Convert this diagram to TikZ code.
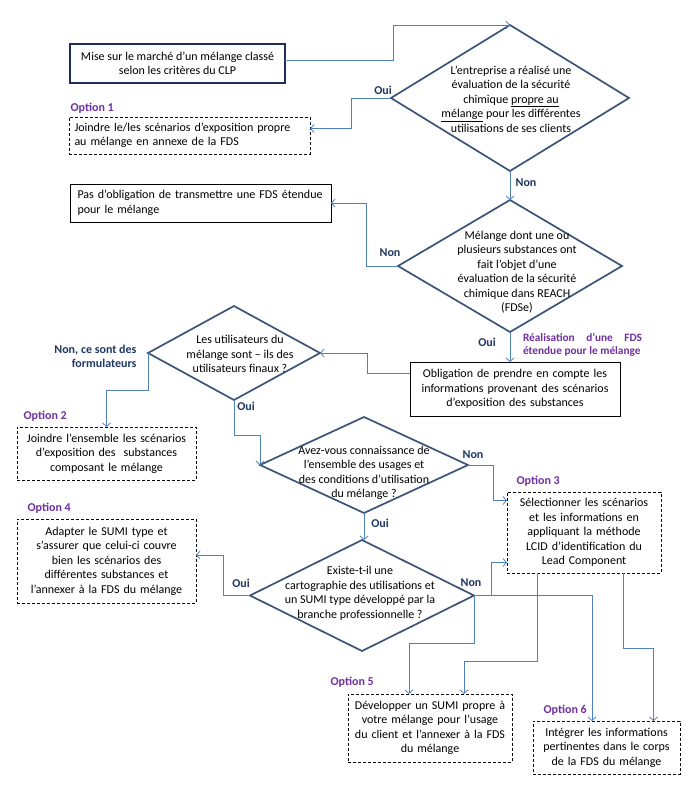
\documentclass[tikz,border=0pt]{standalone}
\usepackage{fontspec}
\setmainfont{Carlito}
\usetikzlibrary{shapes.geometric,arrows.meta,calc}
\definecolor{connc}{RGB}{79,129,189}
\definecolor{diac}{RGB}{59,84,120}
\definecolor{navyb}{RGB}{31,45,90}
\definecolor{labc}{RGB}{31,56,100}
\definecolor{optc}{RGB}{112,48,160}
\tikzset{
  conn/.style={draw=connc, line width=0.8pt, -{Straight Barb[length=3.5pt,width=8pt]}},
  dia/.style={diamond, draw=diac, line width=1.7pt, inner sep=0pt, outer sep=0pt},
  mainbox/.style={rectangle, draw=navyb, line width=1.8pt, inner sep=0pt, outer sep=0pt, align=center},
  plainbox/.style={rectangle, draw=black, line width=0.8pt, inner sep=0pt, outer sep=0pt},
  optbox/.style={rectangle, draw=black, line width=0.8pt, dash pattern=on 3pt off 2pt, inner sep=0pt, outer sep=0pt},
  ans/.style={text=labc, font=\fontsize{12}{14}\selectfont\bfseries},
  optlab/.style={text=optc, font=\fontsize{12}{14}\selectfont\bfseries, anchor=west},
  dtext/.style={align=center, inner sep=0pt}
}
\begin{document}
\begin{tikzpicture}[x=1pt,y=-1pt,font=\fontsize{12}{14.5}\selectfont]
\useasboundingbox (0,0) rectangle (693,790);
\fill[white] (0,0) rectangle (693,790);

% boxes
\node[mainbox, minimum width=215pt, minimum height=39pt] (B1) at (177.5,63.5)
  {Mise sur le marché d’un mélange classé\\selon les critères du CLP};
\node[optbox, minimum width=241pt, minimum height=37pt, text width=230pt, align=left] (O1) at (189.5,135.5)
  {Joindre le/les scénarios d’exposition propre\\au mélange en annexe de la FDS};
\node[plainbox, minimum width=261pt, minimum height=38pt, text width=246pt, align=left] (Pas) at (200.5,203)
  {Pas d’obligation de transmettre une FDS étendue\\pour le mélange};
\node[plainbox, minimum width=210pt, minimum height=54pt, text width=204pt, align=center] (Obl) at (515,389)
  {Obligation de prendre en compte les\\informations provenant des scénarios\\d’exposition des substances};
\node[optbox, minimum width=179pt, minimum height=53pt, text width=172pt, align=center] (O2) at (106.5,453.5)
  {Joindre l’ensemble les scénarios\\d’exposition des\ \ substances\\composant le mélange};
\node[optbox, minimum width=154pt, minimum height=81pt, text width=150pt, align=center] (O3) at (584,532.5)
  {Sélectionner les scénarios\\et les informations en\\appliquant la méthode\\LCID d’identification du\\Lead Component};
\node[optbox, minimum width=179pt, minimum height=84pt, text width=175pt, align=center] (O4) at (106.5,561)
  {Adapter le SUMI type et\\s’assurer que celui-ci couvre\\bien les scénarios des\\différentes substances et\\l’annexer à la FDS du mélange};
\node[optbox, minimum width=164pt, minimum height=68pt, text width=160pt, align=center] (O5) at (430,728)
  {Développer un SUMI propre à\\votre mélange pour l’usage\\du client et l’annexer à la FDS\\du mélange};
\node[optbox, minimum width=147pt, minimum height=53pt, text width=143pt, align=center] (O6) at (606.5,747.5)
  {Intégrer les informations\\pertinentes dans le corps\\de la FDS du mélange};

% diamonds
\node[dia, minimum width=238pt, minimum height=146pt] (D1) at (510,98) {};
\node[dtext] (D1t) at (511,99) {L’entreprise a réalisé une\\évaluation de la sécurité\\chimique \underline{propre au}\\\underline{mélange} pour les différentes\\utilisations de ses clients};
\node[dia, minimum width=224pt, minimum height=132pt] (D2) at (510,266) {};
\node[dtext] (D2t) at (517,272) {Mélange dont une ou\\plusieurs substances ont\\fait l’objet d’une\\évaluation de la sécurité\\chimique dans REACH\\(FDSe)};
\node[dia, minimum width=172pt, minimum height=94pt] (D3) at (234,353) {};
\node[dtext] (D3t) at (240,354) {Les utilisateurs du\\mélange sont – ils des\\utilisateurs finaux ?};
\node[dia, minimum width=208pt, minimum height=96pt] (D4) at (364,465) {};
\node[dtext] (D4t) at (364,473) {Avez-vous connaissance de\\l’ensemble des usages et\\des conditions d’utilisation\\du mélange ?};
\node[dia, minimum width=224pt, minimum height=111pt] (D5) at (362,595.5) {};
\node[dtext] (D5t) at (360,593.5) {Existe-t-il une\\cartographie des utilisations et\\un SUMI type développé par la\\branche professionnelle ?};

% option labels
\node[optlab] (L1) at (67,108) {Option 1};
\node[optlab] (L2) at (20,416) {Option 2};
\node[optlab] (L3) at (513,481) {Option 3};
\node[optlab] (L4) at (24,508) {Option 4};
\node[optlab] (L5) at (327,682) {Option 5};
\node[optlab] (L6) at (540,710) {Option 6};
\node[text=optc, font=\fontsize{11.3}{13}\selectfont\bfseries, align=left, inner sep=0pt] (Real) at (582.5,345)
  {\makebox[119pt][s]{Réalisation d’une FDS}\\étendue pour le mélange};

% answer labels
\node[ans] (A1) at (383,90) {Oui};
\node[ans] (A2) at (526,183) {Non};
\node[ans] (A3) at (390,253) {Non};
\node[ans] (A4) at (487,342) {Oui};
\node[ans, align=right, anchor=east] (A5) at (140,356) {Non, ce sont des\\formulateurs};
\node[ans] (A6) at (246,406) {Oui};
\node[ans] (A7) at (473,455) {Non};
\node[ans] (A8) at (380,523) {Oui};
\node[ans] (A9) at (241,583) {Oui};
\node[ans] (A10) at (471,583) {Non};

% connectors
\draw[conn] ($(B1.east)+(0,-3)$) -- ++(108,0) |- (D1.north);
\draw[conn] (D1.west) -- ++(-40,0) |- ($(O1.east)+(0,-7)$);
\draw[conn] (D1.south) -- (D2.north);
\draw[conn] (D2.west) -- ++(-32,0) |- (Pas.east);
\draw[conn] (D2.south) -- (D2.south |- Obl.north);
\draw[conn] ($(Obl.west)+(0,-16)$) -- ++(-43,0) |- (D3.east);
\draw[conn] (D3.west) -- ++(0,37) -| (O2.north);
\draw[conn] (D3.south) -- ++(0,35) -| (D4.west);
\draw[conn] (D4.east) -- ++(25,0) |- ($(O3.west)+(0,-32)$);
\draw[conn] (D4.south) -- (D4.south |- D5.north);
\draw[conn] (D5.west) -- ++(-27,0) |- ($(O4.east)+(0,-6)$);
\draw[conn] (D5.east) -- ++(17,0) |- ($(O3.west)+(0,30)$);
\draw[conn] (D5.east) -| ($(O6.north)+(-14.5,0)$);
\draw[conn] (D5.east) -- ++(0,48) -| ($(O5.north)+(-21,0)$);
\draw[conn] ($(O3.south)+(-47,0)$) -- ++(0,88) -| ($(O5.north)+(34,0)$);
\draw[conn] ($(O3.south)+(39,0)$) -- ++(0,75) -| ($(O6.north)+(47,0)$);
\end{tikzpicture}
\end{document}
